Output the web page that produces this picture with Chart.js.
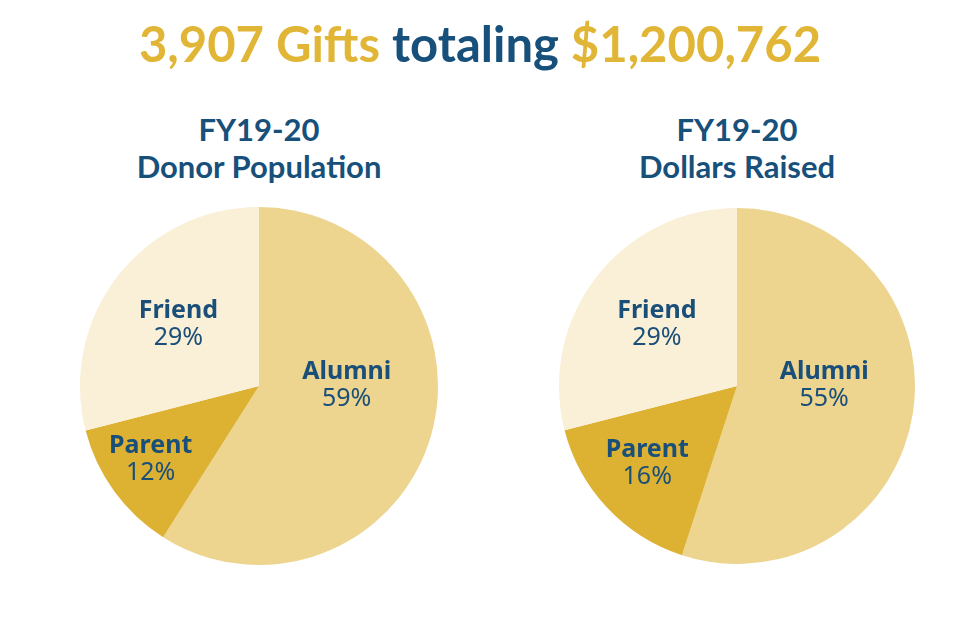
<!DOCTYPE html>
<html>
<head>
<meta charset="utf-8">
<script src="https://cdn.jsdelivr.net/npm/chart.js@4"></script>
<style>
  body { margin: 0; background: #fff; }
  #wrap { position: relative; width: 960px; height: 640px; overflow: hidden; }
  .head { position: absolute; left: 0; width: 960px; top: 14px; text-align: center;
          font-family: Lato, sans-serif; font-weight: 700; font-size: 49px; color: #E1B637; }
  .head .blue { color: #17507A; }
  .sub { position: absolute; width: 360px; text-align: center; font-family: Lato, sans-serif;
         font-weight: 700; font-size: 31px; line-height: 37px; color: #17507A; }
  .pie { position: absolute; }
</style>
</head>
<body>
<div id="wrap">
  <div class="head">3,907 Gifts <span class="blue">totaling</span> $1,200,762</div>
  <div class="sub" style="left:79px; top:111px;">FY19-20<br>Donor Population</div>
  <div class="sub" style="left:557px; top:111px;">FY19-20<br>Dollars Raised</div>
  <div class="pie" style="left:80px; top:207px; width:358px; height:358px;"><canvas id="donorChart"></canvas></div>
  <div class="pie" style="left:559px; top:208px; width:356px; height:356px;"><canvas id="dollarChart"></canvas></div>
</div>
<script>
const labels = ['Alumni', 'Parent', 'Friend'];
const donorShare = [59, 12, 29];
const dollarShare = [55, 16, 29];

const sliceColors = ['#EDD48F', '#DDB233', '#FAF0D7'];

const sliceLabels = {
  id: 'sliceLabels',
  afterDatasetsDraw(chart, args, opts) {
    const ctx = chart.ctx;
    const meta = chart.getDatasetMeta(0);
    const values = chart.data.datasets[0].data;
    meta.data.forEach(function(arc, i) {
      // label sits a fraction of the radius out, turned a little off the slice middle
      const mid = (arc.startAngle + arc.endAngle) / 2 + opts.turn[i] * Math.PI / 180;
      const d = arc.outerRadius * opts.dist[i];
      const x = arc.x + Math.cos(mid) * d;
      const y = arc.y + Math.sin(mid) * d;
      ctx.save();
      ctx.fillStyle = '#1A4F79';
      ctx.textAlign = 'center';
      ctx.textBaseline = 'middle';
      ctx.font = '700 25px "Noto Sans"';
      ctx.fillText(chart.data.labels[i], x, y - 13);
      ctx.font = '400 25px "Noto Sans"';
      ctx.fillText(values[i] + '%', x, y + 14);
      ctx.restore();
    });
  }
};

function newPie(id, values, dist, turn) {
  const config = {
    type: 'pie',
    data: {
      labels: labels,
      datasets: [{
        data: values,
        backgroundColor: sliceColors,
        borderWidth: 0
      }]
    },
    options: {
      responsive: true,
      maintainAspectRatio: false,
      animation: false,
      layout: { padding: 0 },
      plugins: {
        legend: { display: false },
        tooltip: { enabled: false },
        sliceLabels: { dist: dist, turn: turn }
      }
    },
    plugins: [sliceLabels]
  };
  return new Chart(document.getElementById(id), config);
}

newPie('donorChart', donorShare, [0.49, 0.73, 0.57], [-17, 2, 0]);
newPie('dollarChart', dollarShare, [0.49, 0.665, 0.57], [-10, 2.5, 0]);
</script>
</body>
</html>
